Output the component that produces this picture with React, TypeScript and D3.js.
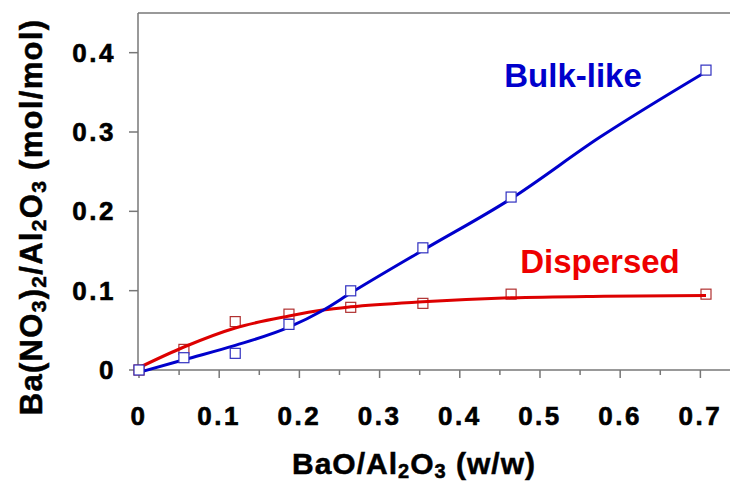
import { useRef, useEffect } from "react"
import * as d3 from "d3"

// measured points (BaO/Al2O3 w/w, Ba(NO3)2/Al2O3 mol/mol)
const bulkX = [0, 0.056, 0.12, 0.187, 0.264, 0.354, 0.464, 0.707]
const bulkY = [0, 0.0155, 0.021, 0.0575, 0.0998, 0.154, 0.218, 0.378]
const dispX = [0, 0.056, 0.12, 0.187, 0.264, 0.354, 0.464, 0.707]
const dispY = [0, 0.026, 0.061, 0.0704, 0.079, 0.084, 0.0956, 0.0956]

// fitted curves
const bulkFitX = [0, 0.056, 0.12, 0.187, 0.229, 0.264, 0.354, 0.464, 0.574, 0.707]
const bulkFitY = [-0.003, 0.013, 0.031, 0.054, 0.075, 0.097, 0.151, 0.216, 0.293, 0.376]
const dispFitX = [0, 0.056, 0.12, 0.187, 0.229, 0.264, 0.354, 0.464, 0.58, 0.707]
const dispFitY = [0.003, 0.029, 0.053, 0.068, 0.0755, 0.0796, 0.086, 0.091, 0.093, 0.094]

const xTicks = [0, 0.1, 0.2, 0.3, 0.4, 0.5, 0.6, 0.7]
const xMinor = [0.05, 0.15, 0.25, 0.35, 0.45, 0.55, 0.65]
const yTicks = [0, 0.1, 0.2, 0.3, 0.4]

const BLUE = "#0000cc"
const RED = "#dd0000"
const GRID = "#777777"
const FONT = "'Liberation Sans', Arial, sans-serif"

export default function App() {
  const svgRef = useRef<SVGSVGElement>(null)

  useEffect(() => {
    if (!svgRef.current) return
    const svg = d3.select(svgRef.current)
    svg.selectAll("*").remove()

    const x = d3.scaleLinear().domain([0, 0.7494]).range([139, 740])
    const y = d3.scaleLinear().domain([0, 0.45]).range([370, 13])

    // frame: top line, left axis, bottom axis
    svg.append("line").attr("x1", 138).attr("x2", 730).attr("y1", 13).attr("y2", 13)
      .attr("stroke", GRID).attr("stroke-width", 1.5)
    svg.append("line").attr("x1", 138).attr("x2", 138).attr("y1", 13).attr("y2", 371)
      .attr("stroke", GRID).attr("stroke-width", 1.5)
    svg.append("line").attr("x1", 138).attr("x2", 730).attr("y1", 370).attr("y2", 370)
      .attr("stroke", GRID).attr("stroke-width", 1.5)

    // x ticks
    svg.append("g").selectAll("line")
      .data([...xTicks, ...xMinor])
      .join("line")
      .attr("x1", (d) => x(d)).attr("x2", (d) => x(d))
      .attr("y1", 370).attr("y2", (d) => (xTicks.includes(d) ? 378 : 375))
      .attr("stroke", GRID).attr("stroke-width", 1.5)

    svg.append("g").selectAll("text")
      .data(xTicks)
      .join("text")
      .attr("x", (d) => x(d))
      .attr("y", 425)
      .attr("text-anchor", "middle")
      .attr("font-family", FONT).attr("font-weight", "bold").attr("font-size", 26)
      .attr("letter-spacing", 2.5)
      .attr("stroke", "black").attr("stroke-width", 0.6)
      .text((d) => (d === 0 ? "0" : d3.format(".1f")(d)))

    // y ticks
    svg.append("g").selectAll("line")
      .data(yTicks)
      .join("line")
      .attr("x1", 129).attr("x2", 138)
      .attr("y1", (d) => y(d)).attr("y2", (d) => y(d))
      .attr("stroke", GRID).attr("stroke-width", 1.5)

    svg.append("g").selectAll("text")
      .data(yTicks)
      .join("text")
      .attr("x", 116)
      .attr("y", (d) => y(d) + 9)
      .attr("text-anchor", "end")
      .attr("font-family", FONT).attr("font-weight", "bold").attr("font-size", 26)
      .attr("letter-spacing", 2.5)
      .attr("stroke", "black").attr("stroke-width", 0.6)
      .text((d) => (d === 0 ? "0" : d3.format(".1f")(d)))

    // curves
    const line = d3.line<[number, number]>()
      .x((d) => x(d[0]))
      .y((d) => y(d[1]))
      .curve(d3.curveMonotoneX)

    const marker = (xs: number[], ys: number[], color: string) =>
      svg.append("g").selectAll("rect")
        .data(xs.map((v, i) => [v, ys[i]] as [number, number]))
        .join("rect")
        .attr("x", (d) => x(d[0]) - 5).attr("y", (d) => y(d[1]) - 5)
        .attr("width", 10).attr("height", 10)
        .attr("fill", "white").attr("stroke", color).attr("stroke-width", 1.2)

    marker(dispX, dispY, "#b03030")
    svg.append("path")
      .datum(dispFitX.map((v, i) => [v, dispFitY[i]] as [number, number]))
      .attr("d", line).attr("fill", "none").attr("stroke", RED).attr("stroke-width", 3)
    svg.append("path")
      .datum(bulkFitX.map((v, i) => [v, bulkFitY[i]] as [number, number]))
      .attr("d", line).attr("fill", "none").attr("stroke", BLUE).attr("stroke-width", 3)
    marker(bulkX, bulkY, "#3030c0")

    // series labels
    svg.append("text").attr("x", 573).attr("y", 87).attr("text-anchor", "middle")
      .attr("font-family", FONT).attr("font-weight", "bold").attr("font-size", 33)
      .attr("fill", BLUE).text("Bulk-like")
    svg.append("text").attr("x", 600).attr("y", 273).attr("text-anchor", "middle")
      .attr("font-family", FONT).attr("font-weight", "bold").attr("font-size", 33)
      .attr("fill", "#ee0000").text("Dispersed")

    // axis titles with subscripts
    const title = (
      g: d3.Selection<SVGTextElement, unknown, null, undefined>,
      parts: [string, boolean][],
      size: number,
    ) => {
      parts.forEach(([t, sub]) => {
        g.append("tspan")
          .attr("font-size", sub ? Math.round(size * 0.67) : size)
          .attr("baseline-shift", sub ? "-20%" : "0")
          .text(t)
      })
    }

    const xt = svg.append("text").attr("x", 414).attr("y", 474).attr("text-anchor", "middle")
      .attr("font-family", FONT).attr("font-weight", "bold").attr("letter-spacing", 1)
      .attr("stroke", "black").attr("stroke-width", 0.5)
    title(xt, [["BaO/Al", false], ["2", true], ["O", false], ["3", true], [" (w/w)", false]], 30)

    const yt = svg.append("text").attr("transform", "translate(42,217) rotate(-90)")
      .attr("text-anchor", "middle")
      .attr("font-family", FONT).attr("font-weight", "bold").attr("letter-spacing", 1.3)
      .attr("stroke", "black").attr("stroke-width", 0.5)
    title(yt, [["Ba(NO", false], ["3", true], [")", false], ["2", true], ["/Al", false], ["2", true], ["O", false], ["3", true], [" (mol/mol)", false]], 31)
  }, [])

  return (
    <svg
      ref={svgRef}
      width={730}
      height={487}
      style={{ position: "absolute", left: 0, top: 0, background: "white" }}
    />
  )
}
